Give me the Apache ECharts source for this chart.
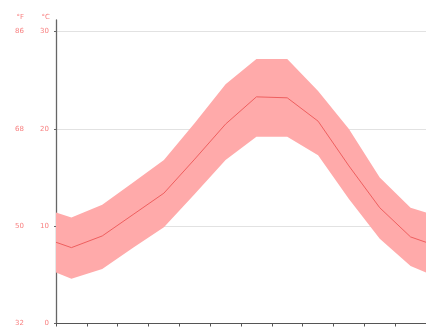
<!DOCTYPE html>
<html>
<head>
<meta charset="utf-8">
<style>
  html, body { margin: 0; padding: 0; background: #fff; }
  #chart { width: 426px; height: 327px; }
</style>
<script src="https://cdn.jsdelivr.net/npm/echarts@6/dist/echarts.min.js"></script>
</head>
<body>
<div id="chart"></div>
<script>
// Monthly climate temperatures (°C)
var months = ['Jan', 'Feb', 'Mar', 'Apr', 'May', 'Jun', 'Jul', 'Aug', 'Sep', 'Oct', 'Nov', 'Dec'];
var tempMean = [7.8, 9.0, 11.2, 13.4, 16.9, 20.5, 23.3, 23.2, 20.8, 16.2, 11.9, 8.9];
var tempHigh = [10.9, 12.2, 14.5, 16.8, 20.6, 24.6, 27.2, 27.2, 23.9, 20.0, 15.0, 11.9];
var tempLow  = [4.6, 5.6, 7.8, 9.9, 13.3, 16.8, 19.2, 19.2, 17.3, 12.8, 8.7, 5.9];
var celsiusTicks = [0, 10, 20, 30];
var axisTop = 31.2; // the axis line runs a little past the last tick

var labelColor = '#f88080';

// Months sit at the middle of each band; the curve wraps round the year at both edges.
function series(values) {
  var n = values.length;
  var wrap = (values[0] + values[n - 1]) / 2;
  var pts = [[0, wrap]];
  values.forEach(function (v, i) { pts.push([i + 0.5, v]); });
  pts.push([n, wrap]);
  return pts;
}

var meanPts = series(tempMean);
var highPts = series(tempHigh);
var lowPts = series(tempLow);

var chart = echarts.init(document.getElementById('chart'), null, { renderer: 'canvas' });

function cToF(c) { return Math.round(c * 9 / 5 + 32); }
function tickOnly(fmt) {
  return function (v) { return celsiusTicks.indexOf(v) >= 0 ? fmt(v) : ''; };
}

chart.setOption({
  animation: false,
  grid: { left: 56, top: 20, width: 384, height: 305, containLabel: false },
  xAxis: {
    type: 'value',
    min: 0,
    max: months.length,
    interval: 1,
    axisLine: { show: true, lineStyle: { color: '#555', width: 1.2 } },
    axisTick: { show: true, length: 3, lineStyle: { color: '#555' } },
    axisLabel: { show: false },
    splitLine: { show: false }
  },
  yAxis: [
    {
      type: 'value',
      min: celsiusTicks[0],
      max: axisTop,
      interval: 10,
      position: 'left',
      name: '°C',
      nameLocation: 'end',
      nameGap: 3,
      nameTextStyle: { color: labelColor, fontSize: 7, align: 'right', verticalAlign: 'middle', padding: [0, 6, 0, 0], fontFamily: 'DejaVu Sans' },
      axisLine: { show: true, lineStyle: { color: '#666', width: 1.3 } },
      axisTick: { show: true, length: 2, lineStyle: { color: '#666' } },
      axisLabel: { color: labelColor, fontSize: 7, margin: 7, fontFamily: 'DejaVu Sans', showMaxLabel: false, formatter: tickOnly(String) },
      splitLine: { show: true, showMaxLine: false, lineStyle: { color: '#e2e2e2', width: 1 } }
    },
    {
      type: 'value',
      min: celsiusTicks[0],
      max: axisTop,
      interval: 10,
      position: 'left',
      name: '°F',
      nameLocation: 'end',
      nameGap: 3,
      nameTextStyle: { color: labelColor, fontSize: 7, align: 'right', verticalAlign: 'middle', padding: [0, 32, 0, 0], fontFamily: 'DejaVu Sans' },
      axisLine: { show: false },
      axisTick: { show: false },
      axisLabel: { color: labelColor, fontSize: 7, margin: 32, fontFamily: 'DejaVu Sans', showMaxLabel: false, formatter: tickOnly(function (v) { return String(cToF(v)); }) },
      splitLine: { show: false }
    }
  ],
  series: [
    {
      // min–max band
      type: 'custom',
      coordinateSystem: 'cartesian2d',
      yAxisIndex: 0,
      silent: true,
      z: 1,
      data: highPts.map(function (p, i) { return [p[0], p[1], lowPts[i][1]]; }),
      encode: { x: 0, y: [1, 2] },
      renderItem: function (params, api) {
        if (params.dataIndex !== 0) return null;
        var top = highPts.map(function (p) { return api.coord(p); });
        var bottom = lowPts.map(function (p) { return api.coord(p); }).reverse();
        return {
          type: 'polygon',
          shape: { points: top.concat(bottom) },
          style: { fill: '#ffaaaa' }
        };
      }
    },
    {
      type: 'line',
      yAxisIndex: 0,
      data: meanPts,
      symbol: 'none',
      z: 3,
      lineStyle: { color: '#ee5f5f', width: 1 }
    }
  ]
});
</script>
</body>
</html>
